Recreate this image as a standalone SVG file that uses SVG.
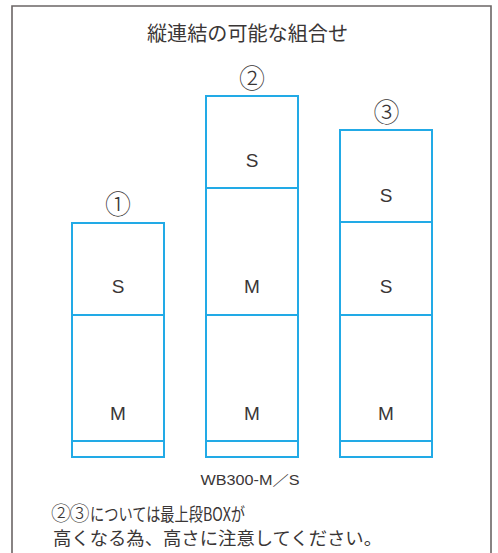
<svg xmlns="http://www.w3.org/2000/svg" width="498" height="553" viewBox="0 0 498 553">
<style>
.frame{fill:none;stroke:#6b6565;stroke-width:1.6}
.box{fill:#fff;stroke:#22aae6;stroke-width:2}
.t{fill:#3a3636;font-family:"Noto Sans CJK JP","Noto Sans",sans-serif}
.lbl{fill:#3a3636;font-family:"Liberation Sans","Noto Sans CJK JP",sans-serif;font-size:19px;text-anchor:middle}
.num{font-size:26px;text-anchor:middle;font-weight:300}
</style>
<rect x="0" y="0" width="498" height="553" fill="#fff"/>
<path class="frame" d="M12,560 V6 H491 V560"/>
<text class="t" x="247.5" y="41" font-size="20" text-anchor="middle" textLength="201" lengthAdjust="spacingAndGlyphs">縦連結の可能な組合せ</text>

<g id="col1">
<text class="t num" x="118" y="213.5">①</text>
<g id="c1-s"><rect class="box" x="72" y="223" width="92" height="92"/><text class="lbl" x="118" y="293">S</text></g>
<g id="c1-m"><rect class="box" x="72" y="315" width="92" height="126"/><text class="lbl" x="118" y="420">M</text></g>
<g id="c1-base"><rect class="box" x="72" y="441" width="92" height="16"/></g>
</g>

<g id="col2">
<text class="t num" x="252" y="88">②</text>
<g id="c2-s"><rect class="box" x="206" y="96" width="92" height="92"/><text class="lbl" x="252" y="167">S</text></g>
<g id="c2-m1"><rect class="box" x="206" y="188" width="92" height="127"/><text class="lbl" x="252" y="293">M</text></g>
<g id="c2-m2"><rect class="box" x="206" y="315" width="92" height="126"/><text class="lbl" x="252" y="420">M</text></g>
<g id="c2-base"><rect class="box" x="206" y="441" width="92" height="16"/></g>
</g>

<g id="col3">
<text class="t num" x="386.5" y="122">③</text>
<g id="c3-s1"><rect class="box" x="340" y="130" width="92" height="92"/><text class="lbl" x="386" y="202">S</text></g>
<g id="c3-s2"><rect class="box" x="340" y="222" width="92" height="93"/><text class="lbl" x="386" y="293">S</text></g>
<g id="c3-m"><rect class="box" x="340" y="315" width="92" height="126"/><text class="lbl" x="386" y="420">M</text></g>
<g id="c3-base"><rect class="box" x="340" y="441" width="92" height="16"/></g>
</g>

<g id="connectors"></g>

<text class="lbl" x="250" y="485" style="font-size:14px" textLength="99" lengthAdjust="spacingAndGlyphs">WB300-M／S</text>
<text class="t" x="51" y="520.5" font-size="20" font-weight="300" letter-spacing="-1.5">②③</text>
<text class="t" x="90" y="521" font-size="18" textLength="155" lengthAdjust="spacingAndGlyphs">については最上段BOXが</text>
<text class="t" x="53" y="545" font-size="18" textLength="329" lengthAdjust="spacingAndGlyphs">高くなる為、高さに注意してください。</text>
</svg>
